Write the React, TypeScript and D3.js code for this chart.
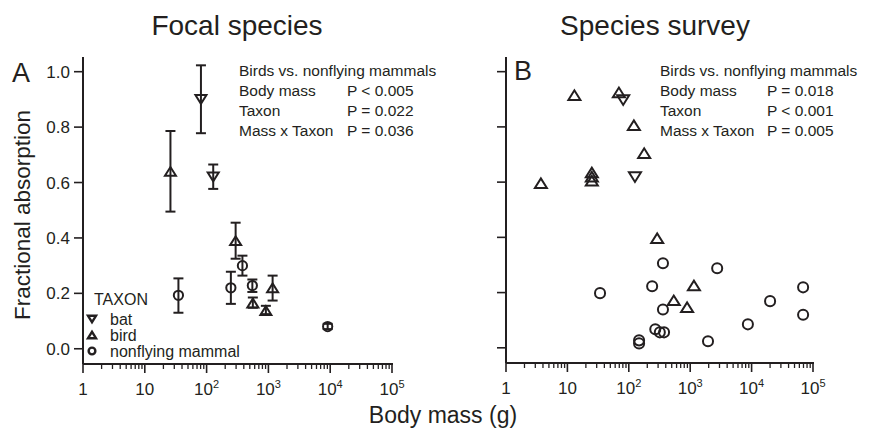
import React from "react";
import * as d3 from "d3";

// ---- data: panel A (focal species, mean with error range) ----
const focalTaxa = ["bat", "bat", "bird", "bird", "bird", "bird", "bird", "mammal", "mammal", "mammal", "mammal", "mammal"];
const focalMass = [81, 128, 26, 295, 560, 910, 1170, 35, 247, 380, 550, 9100];
const focalMean = [0.9, 0.62, 0.64, 0.39, 0.165, 0.138, 0.22, 0.193, 0.22, 0.3, 0.228, 0.08];
const focalLow = [0.778, 0.577, 0.495, 0.325, 0.148, 0.125, 0.174, 0.13, 0.162, 0.264, 0.205, 0.071];
const focalHigh = [1.023, 0.665, 0.786, 0.455, 0.185, 0.155, 0.264, 0.254, 0.278, 0.336, 0.25, 0.09];

// ---- data: panel B (species survey) ----
const surveyTaxa = [
  "bird", "bird", "bird", "bird", "bird", "bird", "bird", "bird", "bird", "bird", "bird", "bird",
  "bat", "bat",
  "mammal", "mammal", "mammal", "mammal", "mammal", "mammal", "mammal", "mammal", "mammal",
  "mammal", "mammal", "mammal", "mammal", "mammal", "mammal",
];
const surveyMass = [
  13, 3.7, 25, 25, 25, 69, 121, 178, 290, 1150, 540, 890,
  81, 126,
  34, 240, 360, 360, 270, 320, 375, 147, 147, 1950, 2750, 8700, 20000, 69000, 69000,
];
const surveyValue = [
  0.915, 0.596, 0.605, 0.62, 0.635, 0.925, 0.806, 0.705, 0.397, 0.226, 0.172, 0.147,
  0.897, 0.618,
  0.198, 0.223, 0.306, 0.139, 0.067, 0.056, 0.056, 0.027, 0.016, 0.024, 0.288, 0.085, 0.169, 0.219, 0.12,
];

const yTicks = [0, 0.2, 0.4, 0.6, 0.8, 1.0];
const xDecades = [0, 1, 2, 3, 4, 5];
const statsA = [["Body mass", "P < 0.005"], ["Taxon", "P = 0.022"], ["Mass x Taxon", "P = 0.036"]];
const statsB = [["Body mass", "P = 0.018"], ["Taxon", "P < 0.001"], ["Mass x Taxon", "P = 0.005"]];
const legendItems = [["bat", "bat"], ["bird", "bird"], ["mammal", "nonflying mammal"]];

const INK = "#231f20";
const FONT = "'Liberation Sans', Arial, Helvetica, sans-serif";

function marker(taxon: string, cx: number, cy: number, s: number, key: string | number, sw = 2) {
  if (taxon === "mammal") {
    return <circle key={key} cx={cx} cy={cy} r={s * 0.42} fill="none" stroke={INK} strokeWidth={sw} />;
  }
  const h = s * 0.8;
  const w = s / 2;
  const d =
    taxon === "bird"
      ? `M${cx - w},${cy + h / 2}L${cx + w},${cy + h / 2}L${cx},${cy - h / 2}Z`
      : `M${cx - w},${cy - h / 2}L${cx + w},${cy - h / 2}L${cx},${cy + h / 2}Z`;
  return <path key={key} d={d} fill="none" stroke={INK} strokeWidth={sw} strokeLinejoin="miter" />;
}

function Panel({ left, right, top, bottom, showLabels }: { left: number; right: number; top: number; bottom: number; showLabels: boolean }) {
  const x = d3.scaleLog().domain([1, 1e5]).range([left, right]);
  const y = d3.scaleLinear().domain([-0.055, 1.035]).range([bottom, top]);
  const minors: number[] = [];
  for (let e = 0; e < 5; e++) for (let m = 2; m <= 9; m++) minors.push(m * Math.pow(10, e));
  return (
    <g>
      <line x1={left} x2={left} y1={top - 5} y2={bottom} stroke={INK} strokeWidth={2} />
      <line x1={left} x2={right + 1} y1={bottom} y2={bottom} stroke={INK} strokeWidth={2} />
      {yTicks.map((t) => (
        <g key={t}>
          <line x1={left - 9} x2={left} y1={y(t)} y2={y(t)} stroke={INK} strokeWidth={1.6} />
          {showLabels && (
            <text x={left - 13} y={y(t) + 6} textAnchor="end" fontSize={17} fill={INK} fontFamily={FONT}>
              {t.toFixed(1)}
            </text>
          )}
        </g>
      ))}
      {minors.map((m) => (
        <line key={m} x1={x(m)} x2={x(m)} y1={bottom} y2={bottom + 5} stroke={INK} strokeWidth={1.3} />
      ))}
      {xDecades.map((e) => (
        <g key={e}>
          <line x1={x(Math.pow(10, e))} x2={x(Math.pow(10, e))} y1={bottom} y2={bottom + 9} stroke={INK} strokeWidth={1.6} />
          <text x={x(Math.pow(10, e))} y={bottom + 31} textAnchor="middle" fontSize={17} fill={INK} fontFamily={FONT}>
            {e === 0 ? "1" : e === 1 ? "10" : (
              <>
                10<tspan fontSize={11} dy={-7}>{e}</tspan>
              </>
            )}
          </text>
        </g>
      ))}
    </g>
  );
}

export default function App() {
  const A = { left: 83, right: 392, top: 62, bottom: 364 };
  const B = { left: 506, right: 813, top: 62, bottom: 363 };
  const xA = d3.scaleLog().domain([1, 1e5]).range([A.left, A.right]);
  const yA = d3.scaleLinear().domain([-0.055, 1.035]).range([A.bottom, A.top]);
  const xB = d3.scaleLog().domain([1, 1e5]).range([B.left, B.right]);
  const yB = d3.scaleLinear().domain([-0.055, 1.035]).range([B.bottom, B.top]);

  return (
    <svg width={875} height={433} style={{ position: "absolute", left: 0, top: 0, background: "#fff" }} fontFamily={FONT}>
      <rect width={875} height={433} fill="#fff" />
      <text x={237} y={35} textAnchor="middle" fontSize={28} fill={INK}>Focal species</text>
      <text x={655} y={35} textAnchor="middle" fontSize={28} fill={INK}>Species survey</text>
      <text x={12} y={82} fontSize={27} fill={INK}>A</text>
      <text x={514} y={80} fontSize={27} fill={INK}>B</text>
      <text transform="translate(30,215) rotate(-90)" textAnchor="middle" fontSize={22.5} fill={INK}>Fractional absorption</text>
      <text x={443} y={423} textAnchor="middle" fontSize={23} fill={INK}>Body mass (g)</text>

      <Panel {...A} showLabels={true} />
      <Panel {...B} showLabels={false} />

      {/* stats text */}
      <text x={239} y={76} fontSize={15.5} fill={INK}>Birds vs. nonflying mammals</text>
      {statsA.map((s, i) => (
        <g key={i}>
          <text x={239} y={96 + i * 20} fontSize={15.5} fill={INK}>{s[0]}</text>
          <text x={347} y={96 + i * 20} fontSize={15.5} fill={INK}>{s[1]}</text>
        </g>
      ))}
      <text x={660} y={76} fontSize={15.5} fill={INK}>Birds vs. nonflying mammals</text>
      {statsB.map((s, i) => (
        <g key={i}>
          <text x={660} y={96 + i * 20} fontSize={15.5} fill={INK}>{s[0]}</text>
          <text x={767} y={96 + i * 20} fontSize={15.5} fill={INK}>{s[1]}</text>
        </g>
      ))}

      {/* legend */}
      <text x={94} y={305} fontSize={16} fill={INK}>TAXON</text>
      {legendItems.map((l, i) => (
        <g key={l[0]}>
          {marker(l[0], 92, 319 + i * 16, 8, "lg" + i, 2.4)}
          <text x={110} y={325 + i * 16} fontSize={16} fill={INK}>{l[1]}</text>
        </g>
      ))}

      {/* panel A error bars and means */}
      {focalMass.map((m, i) => {
        const cx = xA(m);
        return (
          <g key={"a" + i}>
            <line x1={cx} x2={cx} y1={yA(focalLow[i])} y2={yA(focalHigh[i])} stroke={INK} strokeWidth={2} />
            <line x1={cx - 5} x2={cx + 5} y1={yA(focalLow[i])} y2={yA(focalLow[i])} stroke={INK} strokeWidth={2} />
            <line x1={cx - 5} x2={cx + 5} y1={yA(focalHigh[i])} y2={yA(focalHigh[i])} stroke={INK} strokeWidth={2} />
            {marker(focalTaxa[i], cx, yA(focalMean[i]), 11, "am" + i)}
          </g>
        );
      })}

      {/* panel B points */}
      {surveyMass.map((m, i) => marker(surveyTaxa[i], xB(m), yB(surveyValue[i]), 12, "b" + i))}
    </svg>
  );
}
